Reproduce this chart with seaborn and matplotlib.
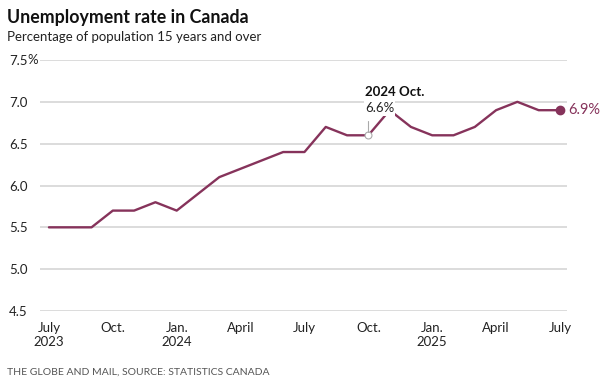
import pandas as pd
import numpy as np
import seaborn as sns
import matplotlib.pyplot as plt

# Dados: taxa de desemprego mensal (%), julho 2023 a julho 2025
months = ['2023-07', '2023-08', '2023-09', '2023-10', '2023-11', '2023-12',
          '2024-01', '2024-02', '2024-03', '2024-04', '2024-05', '2024-06',
          '2024-07', '2024-08', '2024-09', '2024-10', '2024-11', '2024-12',
          '2025-01', '2025-02', '2025-03', '2025-04', '2025-05', '2025-06',
          '2025-07']
rate = [5.5, 5.5, 5.5, 5.7, 5.7, 5.8,
        5.7, 5.9, 6.1, 6.2, 6.3, 6.4,
        6.4, 6.7, 6.6, 6.6, 6.9, 6.7,
        6.6, 6.6, 6.7, 6.9, 7.0, 6.9,
        6.9]
tick_months = ['2023-07', '2023-10', '2024-01', '2024-04', '2024-07',
               '2024-10', '2025-01', '2025-04', '2025-07']
tick_labels = ['July\n2023', 'Oct.', 'Jan.\n2024', 'April', 'July',
               'Oct.', 'Jan.\n2025', 'April', 'July']
y_ticks = [4.5, 5.0, 5.5, 6.0, 6.5, 7.0, 7.5]
highlight_month = '2024-10'

df = pd.DataFrame({'month': months, 'rate': rate})
df['x'] = np.arange(len(df))

LINE = '#86335b'
GRID = '#d6d6d6'

sns.set_style('white')
plt.rcParams['font.family'] = ['Lato', 'DejaVu Sans']

fig = plt.figure(figsize=(6, 3.86), dpi=100)
ax = fig.add_axes([40 / 600, 1 - 311 / 386, 527 / 600, 251 / 386])

sns.lineplot(data=df, x='x', y='rate', color=LINE, linewidth=1.7, ax=ax, zorder=3)

ax.set_xlim(-0.42, len(df) - 1 + 0.33)
ax.set_ylim(4.5, 7.5)
ax.set_xlabel('')
ax.set_ylabel('')
for s in ax.spines.values():
    s.set_visible(False)

# grade horizontal
ax.set_yticks(y_ticks)
ax.yaxis.grid(True, color=GRID, linewidth=1.2)
ax.xaxis.grid(False)
ax.set_yticklabels([f'{v:.1f}' for v in y_ticks], fontsize=9.5, color='#222222')
ax.tick_params(axis='y', length=0, pad=9)
ax.annotate('%', xy=(0, 7.5), xycoords=('axes fraction', 'data'),
            xytext=(-9, 0), textcoords='offset points', ha='left', va='center',
            fontsize=9.5, color='#222222')

x_pos = [months.index(m) for m in tick_months]
ax.set_xticks(x_pos)
ax.set_xticklabels(tick_labels, fontsize=9.5, color='#222222', linespacing=1.2)
ax.tick_params(axis='x', length=3, width=1, color='#999999', pad=5)

# destaque outubro 2024
hx = months.index(highlight_month)
hy = rate[hx]
ax.plot(hx, hy, 'o', ms=5, mfc='white', mec='#aaaaaa', mew=0.8, zorder=4)
ax.plot([hx, hx], [hy + 0.04, hy + 0.17], color='#aaaaaa', lw=0.8, zorder=4)
ax.annotate(f'{hy:.1f}%', xy=(hx, hy), xytext=(-2.5, 15), textcoords='offset points',
            ha='left', va='bottom', fontsize=9.5, color='#222222', zorder=6,
            bbox=dict(boxstyle='square,pad=0.1', fc='white', ec='none'))
ax.annotate('2024 Oct.', xy=(hx, hy), xytext=(-2.5, 27), textcoords='offset points',
            ha='left', va='bottom', fontsize=9.5, fontweight='bold', color='#111111',
            zorder=6, bbox=dict(boxstyle='square,pad=0.15', fc='white', ec='none'))

# ultimo ponto
ax.plot(df['x'].iloc[-1], rate[-1], 'o', ms=6, color=LINE, zorder=5)
ax.annotate(f'{rate[-1]:.1f}%', xy=(df['x'].iloc[-1], rate[-1]), xytext=(6, 0),
            textcoords='offset points', ha='left', va='center', fontsize=10.5,
            color=LINE, annotation_clip=False)

fig.text(7 / 600, 1 - 17 / 386, 'Unemployment rate in Canada', fontsize=12.8,
         fontweight='bold', color='#111111', va='center')
fig.text(7 / 600, 1 - 37 / 386, 'Percentage of population 15 years and over',
         fontsize=9.5, color='#222222', va='center')
fig.text(7 / 600, 1 - 372 / 386, 'THE GLOBE AND MAIL, SOURCE: STATISTICS CANADA',
         fontsize=7.5, color='#555555', va='center')

fig.savefig('out.png', dpi=100)
